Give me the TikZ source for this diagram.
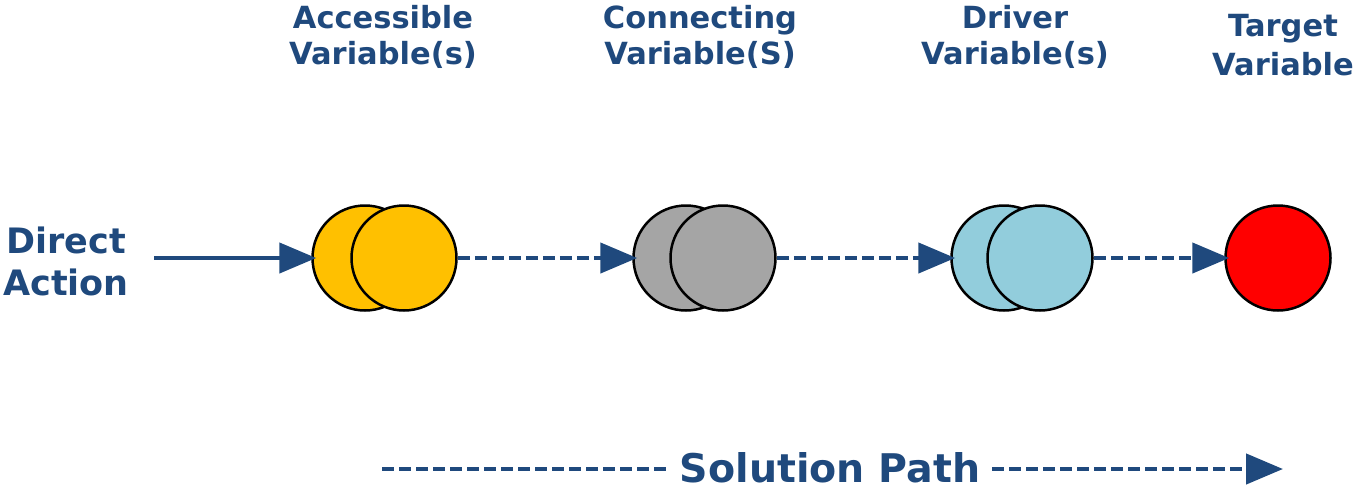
\documentclass[tikz,border=0pt]{standalone}
\usepackage{fontspec}
\setmainfont{DejaVu Sans}
\usetikzlibrary{arrows.meta}
\definecolor{navy}{HTML}{1F497D}
\definecolor{amber}{HTML}{FFC000}
\definecolor{stone}{HTML}{A5A5A5}
\definecolor{sky}{HTML}{92CDDC}
\definecolor{scarlet}{HTML}{FF0000}
\tikzset{
  var/.style={circle, draw=black, line width=2.5pt, minimum size=105pt, inner sep=0pt},
  heading/.style={text=navy, font=\fontsize{30.5}{36}\selectfont\bfseries, align=center, inner sep=0pt, anchor=base},
  link/.style={draw=navy, line width=4.5pt, -{Triangle[length=37pt,width=30pt]}},
  dashlink/.style={link, dash pattern=on 12pt off 5pt},
}
\begin{document}
\begin{tikzpicture}[x=1pt,y=-1pt]
\useasboundingbox (0,0) rectangle (1355,488);

% column headings (anchored on the baseline of the last line)
\node[heading] (h1) at (383,64) {Accessible\\Variable(s)};
\node[heading] (h2) at (700,64) {Connecting\\Variable(S)};
\node[heading] (h3) at (1015,64) {Driver\\Variable(s)};
\node[heading, font=\fontsize{30.5}{39}\selectfont\bfseries] (h4) at (1283,75) {Target\\Variable};

% variable circles (back one first, front one overlapping)
\node[var, fill=amber] (a1) at (365,258) {};
\node[var, fill=amber] (a2) at (404,258) {};
\node[var, fill=stone] (b1) at (686,258) {};
\node[var, fill=stone] (b2) at (723,258) {};
\node[var, fill=sky] (c1) at (1004,258) {};
\node[var, fill=sky] (c2) at (1040,258) {};
\node[var, fill=scarlet] (t) at (1278,258) {};

% direct action input
\node[text=navy, font=\fontsize{35}{42}\selectfont\bfseries, align=center, inner sep=0pt, anchor=base] (da) at (66,295) {Direct\\Action};
\coordinate (start) at (154,258);
\draw[link] (start) -- ([xshift=5pt]a1.west);

% chain between variables
\draw[dashlink] (a2.east) -- ([xshift=5pt]b1.west);
\draw[dashlink] (b2.east) -- ([xshift=5pt]c1.west);
\draw[dashlink] (c2.east) -- ([xshift=5pt]t.west);

% solution path
\node[text=navy, font=\fontsize{39.5}{44}\selectfont\bfseries, inner sep=0pt, text depth=0pt, anchor=base] (sol) at (830,482) {Solution Path};
\coordinate (sp0) at (382,469);
\coordinate (sp1) at (1283,469);
\draw[draw=navy, line width=4.5pt, dash pattern=on 12pt off 5pt] (sp0) -- ([xshift=-12pt]sol.west |- sp0);
\draw[dashlink] ([xshift=12pt]sol.east |- sp1) -- (sp1);
\end{tikzpicture}
\end{document}
